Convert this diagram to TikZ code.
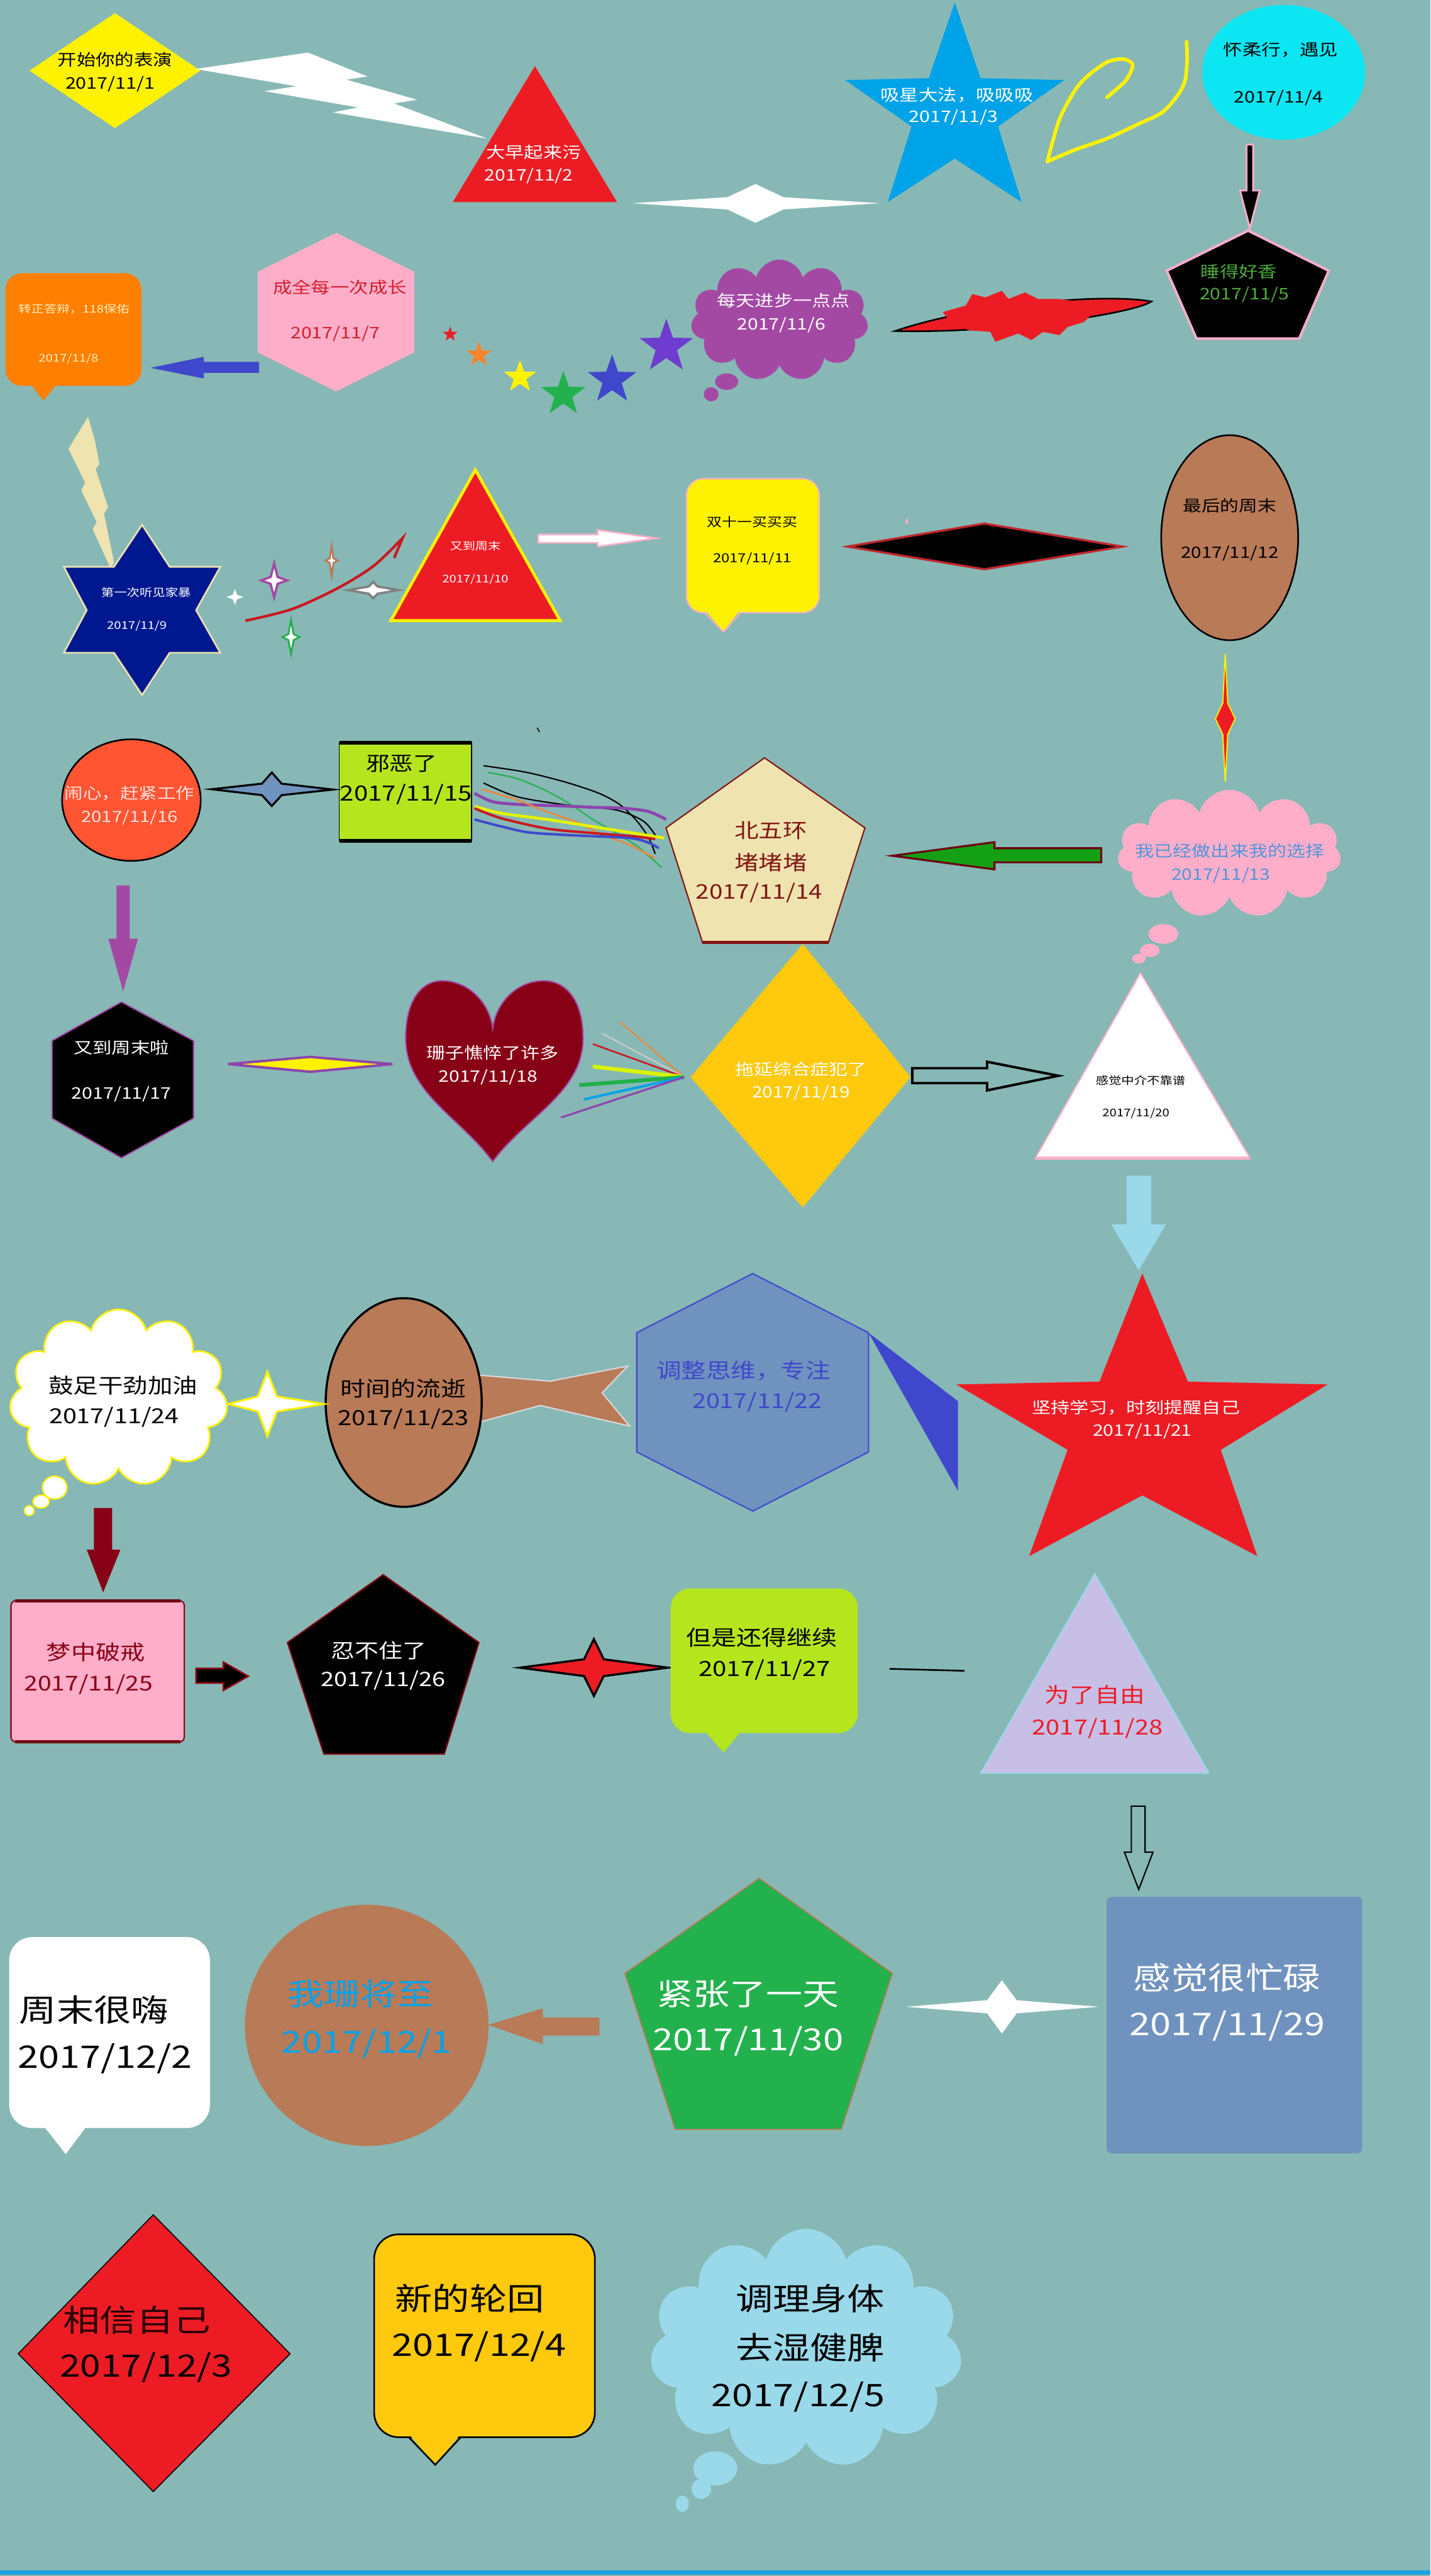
\documentclass[tikz,border=0pt]{standalone}
\usepackage{fontspec}
\usepackage{graphicx}
\newfontfamily\cjk{Noto Sans CJK SC}
\usetikzlibrary{shapes.geometric,shapes.symbols}
\definecolor{bgc}{RGB}{135,184,181}
\definecolor{yel}{RGB}{255,242,0}
\definecolor{redc}{RGB}{237,28,36}
\definecolor{skyc}{RGB}{0,162,232}
\definecolor{cyanc}{RGB}{12,230,242}
\definecolor{pinkc}{RGB}{255,174,201}
\definecolor{purc}{RGB}{163,73,164}
\definecolor{indc}{RGB}{63,72,204}
\definecolor{orac}{RGB}{255,127,0}
\definecolor{beic}{RGB}{239,228,176}
\definecolor{navc}{RGB}{0,24,143}
\definecolor{broc}{RGB}{185,122,87}
\definecolor{ygrc}{RGB}{181,230,29}
\definecolor{stec}{RGB}{112,146,190}
\definecolor{drdc}{RGB}{136,0,21}
\definecolor{golc}{RGB}{255,201,14}
\definecolor{lavc}{RGB}{200,191,231}
\definecolor{lblc}{RGB}{153,217,234}
\definecolor{grnc}{RGB}{34,177,76}
\definecolor{orrc}{RGB}{255,85,51}
\definecolor{garc}{RGB}{20,160,20}
\definecolor{gtxc}{RGB}{80,170,60}
\definecolor{btxc}{RGB}{80,150,220}
\definecolor{palc}{RGB}{255,240,190}
\definecolor{pptc}{RGB}{255,225,220}
\definecolor{rtxc}{RGB}{210,30,45}
\definecolor{d14c}{RGB}{130,20,20}
\definecolor{oraline}{RGB}{247,132,46}
\definecolor{violc}{RGB}{111,60,208}
\definecolor{linec}{RGB}{30,160,224}
\definecolor{outred}{RGB}{192,39,45}
\definecolor{mpur}{RGB}{142,68,173}
\newcommand{\ZT}[2]{\scalebox{1.2}[1]{\fontsize{#1}{#1}\selectfont #2}}
\begin{document}
\begin{tikzpicture}[x=1pt,y=-1pt,
  tx/.style={inner sep=0pt, font=\cjk},
  puff/.style={cloud, cloud puffs=11, cloud ignores aspect, inner sep=0pt}]
\fill[bgc] (0,0) rectangle (871,1568);
\useasboundingbox (0,0) rectangle (871,1568);

% ===== 11/1 =====
\fill[yel] (18,43) -- (70,8) -- (122,43) -- (70,78) -- cycle;
\node[tx,text=black] (t1a) at (70,36.5) {\ZT{9.7}{开始你的表演}};
\node[tx,text=black] (t1b) at (67,51) {\ZT{9.7}{2017/11/1}};
% lightning
\fill[white] (119,42) -- (187.5,32) -- (223.6,46.5) -- (211,48.5) -- (254,60.7) -- (240,63) -- (296.6,84.4) -- (202.7,68.4) -- (218,65.4) -- (161,55.5) -- (180.5,52.5) -- cycle;
% ===== 11/2 =====
\fill[redc] (325.7,40.2) -- (375.7,123) -- (275.7,123) -- cycle;
\node[tx,text=white] (t2a) at (325,92.6) {\ZT{9.6}{大早起来污}};
\node[tx,text=white] (t2b) at (322,107) {\ZT{9.6}{2017/11/2}};
% white four-point star
\fill[white] (385,123.7) -- (443,120) -- (460,112) -- (477,120) -- (535.5,123.7) -- (477,127.5) -- (460,135.6) -- (443,127.5) -- cycle;
% ===== 11/3 =====
\fill[skyc] (581.3,1.6) -- (597,47.6) -- (648,48.7) -- (607.7,77) -- (622,123) -- (581.3,96.5) -- (540.5,123) -- (555,77) -- (514.6,48.7) -- (565.5,47.6) -- cycle;
\node[tx,text=white] (t3a) at (582.7,57.9) {\ZT{9.7}{吸星大法，吸吸吸}};
\node[tx,text=white] (t3b) at (580.5,71.5) {\ZT{9.7}{2017/11/3}};
% yellow loop
\draw[yel, line width=2.2pt, line cap=round] plot[smooth] coordinates {(674,59.2) (685.4,49) (689.6,39.5) (684,36) (674.3,37.7) (663,45.6) (654.9,54.4) (645,72.8) (637.7,98.3)};
\draw[yel, line width=2.2pt, line cap=round] plot[smooth] coordinates {(637.7,98.3) (655,91) (674.3,84.2) (692,76) (707.6,68.4) (717,58) (721.5,49) (722.8,36) (722.4,25.4)};
% ===== 11/4 =====
\fill[cyanc] (781.6,44) ellipse [x radius=49.6, y radius=41];
\node[tx,text=black] (t4a) at (779.8,30.3) {\ZT{9.7}{怀柔行，遇见}};
\node[tx,text=black] (t4b) at (778.5,59.7) {\ZT{9.7}{2017/11/4}};
\filldraw[fill=black, draw=pinkc, line width=1.1pt] (759,88) -- (763,88) -- (763,116) -- (767,116) -- (761,139) -- (755,116) -- (759,116) -- cycle;
% ===== 11/5 =====
\filldraw[fill=black, draw=pinkc, line width=1.5pt] (759.9,140.4) -- (809,164.8) -- (791,206.1) -- (728.5,206.1) -- (710.4,164.8) -- cycle;
\node[tx,text=gtxc] (t5a) at (754.3,165.4) {\ZT{9.7}{睡得好香}};
\node[tx,text=gtxc] (t5b) at (757.6,179.4) {\ZT{9.7}{2017/11/5}};
% red scribble
\filldraw[fill=redc, draw=black, line width=1pt] (545,201.5) .. controls (590,186) and (670,178) .. (701,183.5) .. controls (690,191) and (610,203) .. (545,201.5) -- cycle;
\fill[redc] (574,190) -- (588,186) -- (592,179) -- (600,181) -- (610,177) -- (614,182) -- (624,178) -- (632,182) -- (645,182) -- (660,184) -- (666,190) -- (660,196) -- (650,199) -- (645,204) -- (635,202) -- (628,207) -- (620,203) -- (606,208) -- (603,202) -- (590,201) -- (580,198) -- cycle;
% ===== 11/6 =====
\node[puff, fill=purc, minimum width=108pt, minimum height=74pt] (cl6) at (474.6,195) {};
\fill[purc] (442.4,232.3) ellipse [x radius=7, y radius=5];
\fill[purc] (433,240) ellipse [x radius=4.5, y radius=4.3];
\node[tx,text=white] (t6a) at (477,182.8) {\ZT{9.6}{每天进步一点点}};
\node[tx,text=white] (t6b) at (475.8,198) {\ZT{9.6}{2017/11/6}};
% rainbow stars
\node[star, star points=5, star point ratio=2.5, fill=redc, minimum size=9.5pt, inner sep=0pt] (s1) at (274.1,203.5) {};
\node[star, star points=5, star point ratio=2.5, fill=oraline, minimum size=16pt, inner sep=0pt] (s2) at (291.6,215.9) {};
\node[star, star points=5, star point ratio=2.5, fill=yel, minimum size=20.6pt, inner sep=0pt] (s3) at (316.6,229.5) {};
\node[star, star points=5, star point ratio=2.5, fill=grnc, minimum size=28.3pt, inner sep=0pt] (s4) at (343,240) {};
\node[star, star points=5, star point ratio=2.5, fill=indc, minimum size=31pt, inner sep=0pt] (s5) at (372.7,231.3) {};
\node[star, star points=5, star point ratio=2.5, fill=violc, minimum size=34.2pt, inner sep=0pt] (s6) at (405.7,211.1) {};
% ===== 11/7 =====
\fill[pinkc] (204.7,141.7) -- (252.2,165.4) -- (252.2,214.5) -- (204.7,238.3) -- (156.9,214.5) -- (156.9,165.4) -- cycle;
\node[tx,text=rtxc] (t7a) at (206.9,174.7) {\ZT{9.7}{成全每一次成长}};
\node[tx,text=rtxc] (t7b) at (204.1,203.1) {\ZT{9.7}{2017/11/7}};
\fill[indc] (91.6,223.9) -- (124.1,217.2) -- (124.1,220.3) -- (157.7,220.3) -- (157.7,227) -- (124.1,227) -- (124.1,230.4) -- cycle;
% ===== 11/8 =====
\fill[orac, rounded corners=10pt] (3.3,166.3) rectangle (86.1,234.9);
\fill[orac] (17.2,232) -- (36.1,232) -- (26.4,243.8) -- cycle;
\node[tx,text=palc] (t8a) at (45,187.9) {\ZT{6.5}{转正答辩，118保佑}};
\node[tx,text=palc] (t8b) at (41.7,218.3) {\ZT{6.5}{2017/11/8}};
% beige bolt
\fill[beic] (53.6,253.8) -- (57.8,268.1) -- (60.5,282.4) -- (58.3,285.6) -- (65.8,308.9) -- (63.3,312.6) -- (69.4,342.2) -- (68,344.9) -- (66.6,344.3) -- (56.4,322.1) -- (58.9,317.9) -- (49.4,298.3) -- (51.9,294) -- (41.7,273.2) -- cycle;
% ===== 11/9 =====
\filldraw[fill=navc, draw=beic, line width=1pt] (86.5,319.5) -- (103.3,345) -- (134.1,345) -- (119.4,371.4) -- (134.1,397.3) -- (103.3,397.3) -- (86.5,423) -- (69.4,397.3) -- (38.9,397.3) -- (52.8,371.4) -- (38.9,345) -- (69.4,345) -- cycle;
\node[tx,text=white] (t9a) at (88.9,360.8) {\ZT{6.5}{第一次听见家暴}};
\node[tx,text=white] (t9b) at (83.3,380.9) {\ZT{6.5}{2017/11/9}};
% sparkles
\fill[white] (138,363.4) -- (141.7,362) -- (143,358.6) -- (144.3,362) -- (148,363.4) -- (144.3,364.8) -- (143,368.2) -- (141.7,364.8) -- cycle;
\filldraw[fill=white, draw=purc, line width=1.4pt] (159,353.3) -- (164.8,351.2) -- (166.9,343) -- (169,351.2) -- (174.8,353.3) -- (169,355.4) -- (166.9,363.6) -- (164.8,355.4) -- cycle;
\filldraw[fill=white, draw=broc, line width=1.1pt] (198.2,341.2) -- (200.8,339.8) -- (201.9,332.4) -- (203,339.8) -- (205.6,341.2) -- (203,342.6) -- (201.9,350.5) -- (200.8,342.6) -- cycle;
\filldraw[fill=white, draw=gray, line width=1.4pt] (212,359.2) -- (224.5,357) -- (227.2,354.2) -- (229.9,357) -- (242.6,359.2) -- (229.9,361.4) -- (227.2,364.2) -- (224.5,361.4) -- cycle;
\filldraw[fill=white, draw=grnc, line width=1.1pt] (172,387.8) -- (175.6,386) -- (177.2,377.5) -- (178.8,386) -- (182.4,387.8) -- (178.8,389.6) -- (177.2,398) -- (175.6,389.6) -- cycle;
\draw[redc!85!black, line width=1.6pt, line cap=round] plot[smooth] coordinates {(150,377.7) (177.7,370.8) (205.5,358.1) (227.7,344.3) (245.2,327.4)} -- (240.2,339.1);
% ===== 11/10 =====
\filldraw[fill=redc, draw=yel, line width=1.8pt] (289.4,286) -- (341,377.7) -- (238,377.7) -- cycle;
\node[tx,text=white] (t10a) at (289.4,332.2) {\ZT{6.4}{又到周末}};
\node[tx,text=white] (t10b) at (289.4,352.8) {\ZT{6.4}{2017/11/10}};
\filldraw[fill=white, draw=pinkc, line width=1pt] (327.7,325.3) -- (363.8,325.3) -- (363.8,322.6) -- (399.9,327.6) -- (363.8,332.7) -- (363.8,330.4) -- (327.7,330.4) -- cycle;
% ===== 11/11 =====
\filldraw[fill=yel, draw=pinkc, line width=0.8pt, rounded corners=10pt] (418,291.4) rectangle (498.8,372.9);
\fill[yel] (429,371) -- (450.8,371) -- (440.5,384.6) -- cycle;
\draw[pinkc, line width=0.8pt] (429,372.9) -- (440.5,384.6) -- (450.8,372.9);
\node[tx,text=black] (t11a) at (458,317.9) {\ZT{7.6}{双十一买买买}};
\node[tx,text=black] (t11b) at (458,340) {\ZT{7.6}{2017/11/11}};
\filldraw[fill=black, draw=outred, line width=1.3pt] (516,332.7) -- (599.3,318.7) -- (683.5,332.7) -- (599.3,346.5) -- cycle;
\fill[pinkc] (552.1,317.3) ellipse [x radius=0.9, y radius=1.6];
% ===== 11/12 =====
\filldraw[fill=broc, draw=black, line width=1pt] (748.7,327.3) ellipse [x radius=41.7, y radius=62.4];
\node[tx,text=black] (t12a) at (748.7,307.8) {\ZT{9.5}{最后的周末}};
\node[tx,text=black] (t12b) at (748.7,337) {\ZT{9.5}{2017/11/12}};
\filldraw[fill=redc, draw=yel, line width=0.7pt] (746,398) -- (747.5,428) -- (752,437.5) -- (747.5,447) -- (746,476) -- (744.5,447) -- (740,437.5) -- (744.5,428) -- cycle;
% ===== 11/13 =====
\node[puff, fill=pinkc, minimum width=136pt, minimum height=78pt] (cl13) at (748.5,519.7) {};
\fill[pinkc] (708.3,568.5) ellipse [x radius=9, y radius=6];
\fill[pinkc] (700,578.5) ellipse [x radius=6, y radius=4];
\fill[pinkc] (693.5,583.5) ellipse [x radius=4, y radius=3];
\node[tx,text=btxc] (t13a) at (748.8,518) {\ZT{9.6}{我已经做出来我的选择}};
\node[tx,text=btxc] (t13b) at (743.3,532.8) {\ZT{9.6}{2017/11/13}};
\filldraw[fill=garc, draw=drdc!80!black, line width=1.2pt] (543.3,520.9) -- (605.5,512.6) -- (605.5,516.3) -- (670.5,516.3) -- (670.5,524.9) -- (605.5,524.9) -- (605.5,529.2) -- cycle;
% ===== 11/14 =====
\filldraw[fill=beic, draw=d14c, line width=0.8pt] (465.5,461.3) -- (526.6,503.9) -- (504.4,573.6) -- (427.7,573.6) -- (405.5,503.9) -- cycle;
\draw[d14c, line width=2pt] (427.7,573.6) -- (504.4,573.6);
\node[tx,text=d14c] (t14a) at (469.4,505.6) {\ZT{12.3}{北五环}};
\node[tx,text=d14c] (t14b) at (469.4,524.9) {\ZT{12.3}{堵堵堵}};
\node[tx,text=d14c] (t14c) at (462.2,543.6) {\ZT{12.3}{2017/11/14}};
% ===== 11/15 =====
\fill[ygrc] (206.6,452.2) rectangle (287.2,511.8);
\draw[black, line width=0.6pt] (206.6,452.2) rectangle (287.2,511.8);
\draw[black, line width=2.4pt] (206.6,452.2) -- (287.2,452.2) (206.6,511.8) -- (287.2,511.8);
\node[tx,text=black] (t15a) at (244.4,464.7) {\ZT{12}{邪恶了}};
\node[tx,text=black] (t15b) at (247.2,483.4) {\ZT{12.8}{2017/11/15}};
% colored curves
\draw[black, line width=0.8pt] plot[smooth] coordinates {(294.4,466.1) (320,470) (344.4,476.1) (365,483) (377.7,490) (388,500) (395,510) (398.9,519.7)};
\draw[black, line width=0.8pt] plot[smooth] coordinates {(294.4,476.6) (315,485) (345,490) (375,493) (392,500) (400,510)};
\draw[grnc, line width=0.8pt] plot[smooth] coordinates {(297.2,470.2) (315,474) (333.3,481.7) (348,490) (361,498.8) (375,507) (388.9,515.8) (402.7,528)};
\draw[mpur, line width=1.8pt] plot[smooth] coordinates {(288.9,482.9) (300,488) (316.6,489.7) (340,490.5) (361,491.4) (380,492) (395,494) (405.5,498.8)};
\draw[oraline, line width=0.9pt] plot[smooth] coordinates {(293.3,480.4) (315,487) (333.3,494.2) (350,500) (366.6,507.9) (385,515) (398.9,522.6)};
\draw[yel!90!green, line width=1.8pt] plot[smooth] coordinates {(288.9,490.8) (305,495) (333.3,498.8) (360,503) (385,507) (404.4,510.1)};
\draw[redc!85!black, line width=1.5pt] plot[smooth] coordinates {(288.9,492) (305,498) (333.3,504.4) (360,507) (385,509) (398.9,510.7)};
\draw[indc, line width=1.5pt] plot[smooth] coordinates {(288.9,498.8) (305,503) (322.2,506.7) (350,508.5) (383.3,510.1) (395,513) (401.1,516.3)};
\draw[black, line width=0.6pt] (327,443) -- (328.5,445.5);
% four-point star steel
\filldraw[fill=stec, draw=black, line width=1.2pt] (128.9,480.4) -- (159.5,477) -- (165.5,470.2) -- (171.5,477) -- (202.8,480.6) -- (171.5,484) -- (165.5,490.6) -- (159.5,484) -- cycle;
% ===== 11/16 =====
\filldraw[fill=orrc, draw=black, line width=1pt] (80,487) ellipse [x radius=42.2, y radius=37];
\node[tx,text=pptc] (t16a) at (78.9,482.9) {\ZT{9.4}{闹心，赶紧工作}};
\node[tx,text=pptc] (t16b) at (78.9,497.6) {\ZT{9.4}{2017/11/16}};
\fill[purc] (71,539) -- (79,539) -- (79,571.4) -- (84,571.4) -- (75,603.5) -- (66,571.4) -- (71,571.4) -- cycle;
% ===== 11/17 =====
\filldraw[fill=black, draw=purc, line width=0.8pt] (73.9,609.9) -- (117.8,633.5) -- (117.8,680.7) -- (73.9,704.8) -- (31.7,680.7) -- (31.7,633.5) -- cycle;
\node[tx,text=white] (t17a) at (73.9,637.9) {\ZT{9.7}{又到周末啦}};
\node[tx,text=white] (t17b) at (73.9,665.9) {\ZT{9.7}{2017/11/17}};
\filldraw[fill=yel, draw=mpur, line width=1.5pt] (138.9,647.7) -- (188.9,643.3) -- (238.9,647.7) -- (188.9,652.4) -- cycle;
% ===== 11/18 heart =====
\filldraw[fill=drdc, draw=purc, line width=0.8pt] (300,707) .. controls (280,680) and (247,665) .. (247,632) .. controls (247,607) and (258,597) .. (269,597) .. controls (285,597) and (298,610) .. (300,626) .. controls (302,610) and (315,597) .. (331,597) .. controls (344,597) and (355,608) .. (355,632) .. controls (355,665) and (320,680) .. (300,707) -- cycle;
\node[tx,text=white] (t18a) at (300,640.9) {\ZT{9.6}{珊子憔悴了许多}};
\node[tx,text=white] (t18b) at (297.2,655.6) {\ZT{9.6}{2017/11/18}};
% radiating lines
\coordinate (hub) at (416.6,655.6);
\draw[oraline, line width=0.8pt] (hub) -- (377.7,622.2);
\draw[gray!40, line width=0.8pt] (hub) -- (366.6,629.1);
\draw[redc!85!black, line width=1pt] (hub) -- (361,635.5);
\draw[yel!85!green, line width=2.4pt] (hub) -- (361,649.2);
\draw[grnc, line width=2.4pt] (hub) -- (352.7,660.5);
\draw[skyc, line width=1.5pt] (hub) -- (355.5,669.2);
\draw[mpur, line width=1.2pt] (hub) -- (341.6,680.2);
% ===== 11/19 =====
\fill[golc] (488.8,574.5) -- (554.4,655.6) -- (488.8,735) -- (420.5,655.6) -- cycle;
\node[tx,text=white] (t19a) at (487.7,650.7) {\ZT{9.5}{拖延综合症犯了}};
\node[tx,text=white] (t19b) at (487.7,665.4) {\ZT{9.5}{2017/11/19}};
\draw[black, line width=1.5pt] (555.5,650.2) -- (601,650.2) -- (601,646.3) -- (644.4,654.8) -- (601,663.7) -- (601,659.3) -- (555.5,659.3) -- cycle;
% ===== 11/20 =====
\filldraw[fill=white, draw=pinkc, line width=0.8pt] (694.4,592.2) -- (761,704.8) -- (630.5,704.8) -- cycle;
\draw[pinkc, line width=2pt] (630.5,704.8) -- (761,704.8);
\node[tx,text=black] (t20a) at (694.4,657.6) {\ZT{6.5}{感觉中介不靠谱}};
\node[tx,text=black] (t20b) at (691.6,677.7) {\ZT{6.5}{2017/11/20}};
\fill[lblc] (686,715.6) -- (701,715.6) -- (701,745.3) -- (710,745.3) -- (693.3,773.2) -- (676.6,745.3) -- (686,745.3) -- cycle;
% ===== 11/21 =====
\fill[redc] (695.5,775.2) -- (723.3,841) -- (808.3,842.7) -- (743.3,882.5) -- (765.5,947.2) -- (695.5,910.2) -- (626.6,947.2) -- (650,882.5) -- (582.2,842.7) -- (669.4,841) -- cycle;
\node[tx,text=white] (t21a) at (691.6,856.8) {\ZT{9.6}{坚持学习，时刻提醒自己}};
\node[tx,text=white] (t21b) at (695.5,871.3) {\ZT{9.6}{2017/11/21}};
\fill[indc] (528.8,811.2) -- (583.3,852.9) -- (583.3,907.6) -- cycle;
% ===== 11/22 =====
\filldraw[fill=stec, draw=indc, line width=0.8pt] (458.3,775.2) -- (528.8,811.2) -- (528.8,883.8) -- (458.3,919.8) -- (387.7,883.8) -- (387.7,811.2) -- cycle;
\node[tx,text=indc] (t22a) at (452.7,834.3) {\ZT{12.6}{调整思维，专注}};
\node[tx,text=indc] (t22b) at (461,853.6) {\ZT{12.6}{2017/11/22}};
% fish tail
\filldraw[fill=broc, draw=gray!30, line width=0.8pt] (290,836.9) -- (335,840.7) -- (382.2,831.5) -- (366.6,847.8) -- (383.3,868) -- (328.9,855.5) -- (290,866.2) -- cycle;
% ===== 11/23 =====
\filldraw[fill=broc, draw=black, line width=1.3pt] (245.8,853.7) ellipse [x radius=47.5, y radius=63.5];
\node[tx,text=black] (t23a) at (245.5,845.2) {\ZT{12.7}{时间的流逝}};
\node[tx,text=black] (t23b) at (245.5,863.9) {\ZT{12.7}{2017/11/23}};
\filldraw[fill=white, draw=yel, line width=1.2pt] (138.9,854.6) -- (157,850) -- (162.8,835) -- (168.6,850) -- (197.2,854.6) -- (168.6,859.2) -- (162.8,874.2) -- (157,859.2) -- cycle;
% ===== 11/24 =====
\node[puff, fill=white, draw=yel, line width=1pt, minimum width=133pt, minimum height=108pt] (cl24) at (72.2,851) {};
\filldraw[fill=white, draw=yel, line width=0.8pt] (33.3,905.5) ellipse [x radius=7.5, y radius=7];
\filldraw[fill=white, draw=yel, line width=0.8pt] (25,914) ellipse [x radius=5, y radius=4];
\filldraw[fill=white, draw=yel, line width=0.8pt] (17.8,919.5) ellipse [x radius=3, y radius=3];
\node[tx,text=black] (t24a) at (75,843.3) {\ZT{12.6}{鼓足干劲加油}};
\node[tx,text=black] (t24b) at (69.4,862.6) {\ZT{12.6}{2017/11/24}};
\fill[drdc] (57.2,917.9) -- (68.3,917.9) -- (68.3,943.3) -- (73.3,943.3) -- (62.8,969.3) -- (52.8,943.3) -- (57.2,943.3) -- cycle;
% ===== 11/25 =====
\filldraw[fill=pinkc, draw=drdc, line width=0.8pt, rounded corners=3pt] (6.7,974.3) rectangle (112.2,1060.3);
\draw[drdc!80!black, line width=2pt] (9,974.3) -- (110,974.3) (9,1060.3) -- (110,1060.3);
\node[tx,text=drdc] (t25a) at (58.3,1005.7) {\ZT{12.5}{梦中破戒}};
\node[tx,text=drdc] (t25b) at (53.9,1025.4) {\ZT{12.5}{2017/11/25}};
\filldraw[fill=black, draw=drdc, line width=1pt] (119.4,1015.6) -- (136.1,1015.6) -- (136.1,1011.8) -- (151.1,1020.3) -- (136.1,1028.8) -- (136.1,1024.4) -- (119.4,1024.4) -- cycle;
% ===== 11/26 =====
\filldraw[fill=black, draw=drdc, line width=0.8pt] (233.3,958.5) -- (291.6,999.8) -- (270.5,1067.7) -- (197.2,1067.7) -- (175,999.8) -- cycle;
\node[tx,text=white] (t26a) at (230.5,1004.7) {\ZT{12.1}{忍不住了}};
\node[tx,text=white] (t26b) at (233.3,1022.9) {\ZT{12.1}{2017/11/26}};
\filldraw[fill=redc, draw=black, line width=1.3pt] (316.6,1015.1) -- (355.6,1010) -- (361.6,997.7) -- (367.6,1010) -- (406.6,1015.1) -- (367.6,1020.2) -- (361.6,1032.3) -- (355.6,1020.2) -- cycle;
% ===== 11/27 =====
\fill[ygrc, rounded corners=12pt] (408.3,966.9) rectangle (522.2,1054.9);
\fill[ygrc] (427.7,1052) -- (452.7,1052) -- (440.5,1066.7) -- cycle;
\node[tx,text=black] (t27a) at (463.8,996.9) {\ZT{12.8}{但是还得继续}};
\node[tx,text=black] (t27b) at (465.5,1016.5) {\ZT{12.8}{2017/11/27}};
\draw[black, line width=1pt] (541.6,1015.8) -- (587.2,1017);
% ===== 11/28 =====
\filldraw[fill=lavc, draw=lblc, line width=0.8pt] (666.6,958) -- (736,1079.3) -- (597.2,1079.3) -- cycle;
\node[tx,text=redc] (t28a) at (666.6,1031.8) {\ZT{12.7}{为了自由}};
\node[tx,text=redc] (t28b) at (668.3,1051.9) {\ZT{12.7}{2017/11/28}};
\draw[black, line width=0.8pt] (688.8,1099.4) -- (697.2,1099.4) -- (697.2,1127.4) -- (702,1127.4) -- (693.3,1150.1) -- (684.6,1127.4) -- (688.8,1127.4) -- cycle;
% ===== 11/29 =====
\fill[stec, rounded corners=3pt] (673.8,1154.6) rectangle (829.4,1310.7);
\node[tx,text=white] (t29a) at (747.1,1203.8) {\ZT{19}{感觉很忙碌}};
\node[tx,text=white] (t29b) at (747.1,1233.3) {\ZT{19}{2017/11/29}};
\fill[white] (551.6,1221.5) -- (601,1217.5) -- (610,1205.3) -- (619,1217.5) -- (669.4,1221.5) -- (619,1225.5) -- (610,1237.8) -- (601,1225.5) -- cycle;
% ===== 11/30 =====
\filldraw[fill=grnc, draw=broc, line width=0.7pt] (462.2,1143.3) -- (543.3,1201.2) -- (512.2,1296.1) -- (411.1,1296.1) -- (380.5,1201.2) -- cycle;
\node[tx,text=white] (t30a) at (455.5,1213.6) {\ZT{18.5}{紧张了一天}};
\node[tx,text=white] (t30b) at (455.5,1242.4) {\ZT{18.5}{2017/11/30}};
\fill[broc] (297.2,1232.5) -- (330.5,1222.4) -- (330.5,1228) -- (365,1228) -- (365,1239) -- (330.5,1239) -- (330.5,1244.2) -- cycle;
% ===== 12/1 =====
\fill[broc] (223.3,1232.8) ellipse [x radius=74.2, y radius=73.4];
\node[tx,text=skyc] (t31a) at (219.4,1213.6) {\ZT{18.5}{我珊将至}};
\node[tx,text=skyc] (t31b) at (223.3,1243.9) {\ZT{18.5}{2017/12/1}};
% ===== 12/2 =====
\fill[white, rounded corners=14pt] (5.6,1179.1) rectangle (127.8,1295.3);
\fill[white] (25,1292) -- (54.4,1292) -- (40,1311.2) -- cycle;
\node[tx,text=black] (t32a) at (57.2,1223.5) {\ZT{18.9}{周末很嗨}};
\node[tx,text=black] (t32b) at (63.9,1253) {\ZT{18.9}{2017/12/2}};
% ===== 12/3 =====
\filldraw[fill=redc, draw=black, line width=0.6pt] (93.3,1348.1) -- (176.6,1432.7) -- (93.3,1516.6) -- (11.1,1432.7) -- cycle;
\node[tx,text=black!85!red] (t33a) at (83.3,1412.2) {\ZT{18.7}{相信自己}};
\node[tx,text=black] (t33b) at (88.9,1441.1) {\ZT{18.7}{2017/12/3}};
% ===== 12/4 =====
\filldraw[fill=golc, draw=black, line width=1pt, rounded corners=15pt] (227.8,1360) rectangle (362.2,1483.5);
\fill[golc] (248.9,1481.5) -- (280.5,1481.5) -- (265,1500.3) -- cycle;
\draw[black, line width=1pt] (248.9,1483.5) -- (265,1500.3) -- (280.5,1483.5);
\node[tx,text=black] (t34a) at (286,1399.2) {\ZT{18.9}{新的轮回}};
\node[tx,text=black] (t34b) at (291.6,1428.2) {\ZT{18.9}{2017/12/4}};
% ===== 12/5 =====
\node[puff, fill=lblc, minimum width=190pt, minimum height=146pt] (cl35) at (490.8,1429.7) {};
\fill[lblc] (435.5,1502.5) ellipse [x radius=13.4, y radius=10.3];
\fill[lblc] (427,1515) ellipse [x radius=6, y radius=6];
\fill[lblc] (415.5,1524) ellipse [x radius=4, y radius=5];
\node[tx,text=black] (t35a) at (493.3,1399.2) {\ZT{18.9}{调理身体}};
\node[tx,text=black] (t35b) at (493.3,1429) {\ZT{18.9}{去湿健脾}};
\node[tx,text=black] (t35c) at (486,1459.1) {\ZT{18.9}{2017/12/5}};
% bottom line
\fill[linec] (0,1564.5) rectangle (871,1567.2);
\end{tikzpicture}
\end{document}
